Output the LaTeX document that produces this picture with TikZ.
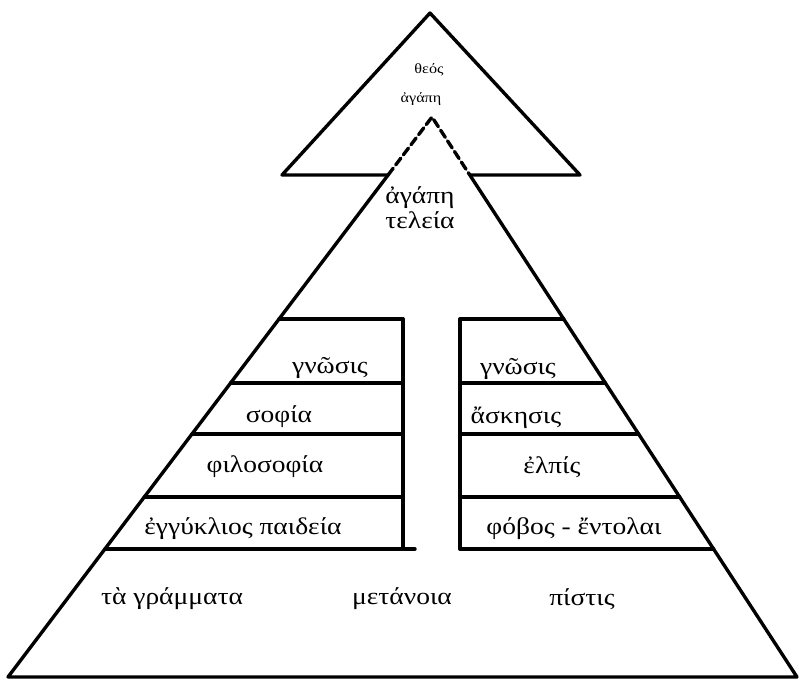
\documentclass[tikz,border=0pt]{standalone}
\usepackage{fontspec}
\setmainfont[FakeStretch=1.15]{Liberation Serif}
\usetikzlibrary{calc}

\tikzset{
    edge/.style={line width=2.4pt, line cap=round, line join=round},
    word/.style={inner sep=1pt, font=\fontsize{17}{19}\selectfont},
    smallword/.style={inner sep=1pt, font=\fontsize{10}{11}\selectfont}
}

\begin{document}
\begin{tikzpicture}[x=0.025cm, y=-0.025cm]
    \useasboundingbox (0,0) rectangle (804,680);

    % corners
    \coordinate (S) at (430,13);
    \coordinate (SL) at (282,175);
    \coordinate (SR) at (580,175);
    \coordinate (A) at (432,117);
    \coordinate (BL) at (8,677);
    \coordinate (BR) at (797,677);
    \coordinate (CL) at ($(A)!{58/560}!(BL)$);
    \coordinate (CR) at ($(A)!{58/560}!(BR)$);

    % upper triangle, partly hidden
    \draw[edge] (SL) -- (S) -- (SR) -- cycle;
    \fill[white] (A) -- (BL) -- (BR) -- cycle;

    % main triangle
    \draw[edge, dash pattern=on 6pt off 3pt] (CL) -- (A) -- (CR);
    \draw[edge] (CL) -- (BL) -- (BR) -- (CR);

    % left steps
    \coordinate (L1) at ($(A)!{202/560}!(BL)$);
    \coordinate (L2) at ($(A)!{266/560}!(BL)$);
    \coordinate (L3) at ($(A)!{317/560}!(BL)$);
    \coordinate (L4) at ($(A)!{380/560}!(BL)$);
    \coordinate (L5) at ($(A)!{432/560}!(BL)$);
    \draw[edge] (L1) -- (L1 -| 403,0) -- (L5 -| 403,0);
    \draw[edge] (L2) -- (L2 -| 403,0);
    \draw[edge] (L3) -- (L3 -| 403,0);
    \draw[edge] (L4) -- (L4 -| 403,0);
    \draw[edge] (L5) -- (L5 -| 415,0);

    % right steps
    \coordinate (R1) at ($(A)!{202/560}!(BR)$);
    \coordinate (R2) at ($(A)!{266/560}!(BR)$);
    \coordinate (R3) at ($(A)!{317/560}!(BR)$);
    \coordinate (R4) at ($(A)!{380/560}!(BR)$);
    \coordinate (R5) at ($(A)!{432/560}!(BR)$);
    \draw[edge] (R1) -- (R1 -| 460,0) -- (R5 -| 460,0) -- (R5);
    \draw[edge] (R2) -- (R2 -| 460,0);
    \draw[edge] (R3) -- (R3 -| 460,0);
    \draw[edge] (R4) -- (R4 -| 460,0);

    % labels
    \node[smallword] (theos) at (429,70) {θεός};
    \node[smallword] (agapeS) at (421,99) {ἀγάπη};
    \node[word] (agape) at (420,198) {ἀγάπη};
    \node[word] (teleia) at (420,220) {τελεία};

    \node[word] (gnosisL) at (330,368) {γνῶσις};
    \node[word] (sophia) at (279,417) {σοφία};
    \node[word] (philo) at (265,467) {φιλοσοφία};
    \node[word] (paideia) at (243,529) {ἐγγύκλιος παιδεία};

    \node[word] (gnosisR) at (518,369) {γνῶσις};
    \node[word] (askesis) at (516,418) {ἄσκησις};
    \node[word] (elpis) at (552,467) {ἐλπίς};
    \node[word] (phobos) at (574,529) {φόβος - ἔντολαι};

    \node[word] (grammata) at (172,599) {τὰ γράμματα};
    \node[word] (metanoia) at (402,599) {μετάνοια};
    \node[word] (pistis) at (582,599) {πίστις};
\end{tikzpicture}
\end{document}
